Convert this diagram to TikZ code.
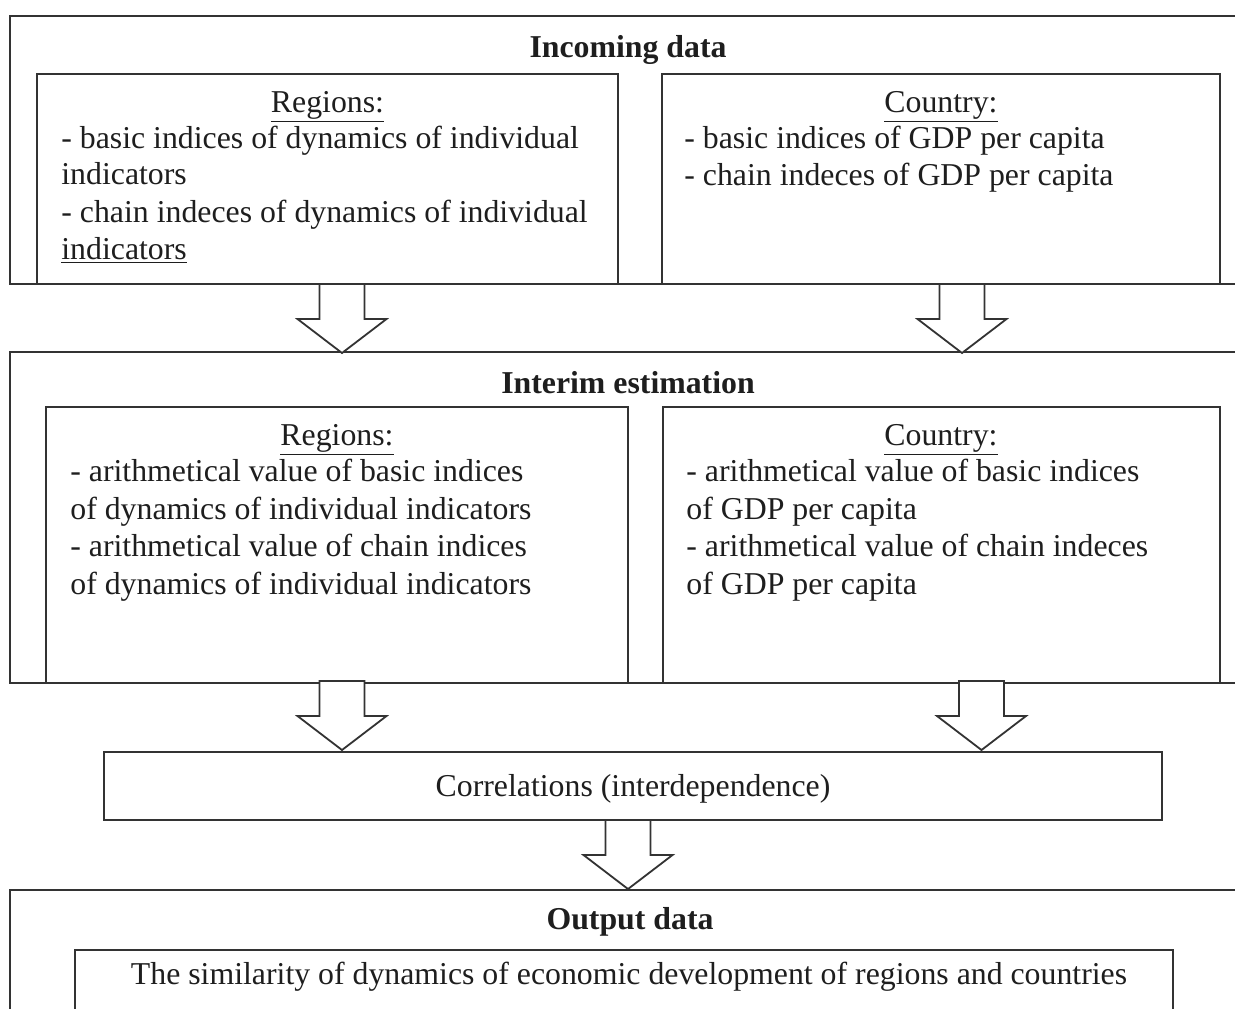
\documentclass[tikz,border=0pt]{standalone}
\usepackage{fontspec}
\setmainfont{Liberation Serif}
\usetikzlibrary{calc}
\definecolor{linegray}{HTML}{333333}
\definecolor{textgray}{HTML}{1E1E1E}
\begin{document}
\begin{tikzpicture}[x=0.5pt,y=-0.5pt,
  frame/.style={draw=linegray, line width=0.75pt},
  box/.style={frame, rectangle, inner sep=0pt, outer sep=0pt, anchor=north west},
  txt/.style={inner sep=0pt, anchor=base west, font=\fontsize{15.9}{18}\selectfont, text=textgray},
  ctxt/.style={txt, anchor=base},
  btxt/.style={ctxt, font=\fontsize{15.9}{18}\selectfont\bfseries},
  blockarrow/.pic={\draw[frame, line width=0.9pt, fill=white, line join=miter]
     (-22.5,0) -- (-22.5,35) -- (-44.5,35) -- (0,69) -- (44.5,35) -- (22.5,35) -- (22.5,0) -- cycle;}
]
\useasboundingbox (0,0) rectangle (1235,1008);
\clip (0,0) rectangle (1235,1008);
\fill[white] (0,0) rectangle (1235,1008);

% outer frames
\node[box, minimum width=620pt, minimum height=134pt] (inc) at (10,16) {};
\node[box, minimum width=620pt, minimum height=165.5pt] (int) at (10,352) {};
\node[box, minimum width=620pt, minimum height=70pt] (outp) at (10,890) {};

% inner boxes
\node[box, minimum width=290.5pt, minimum height=105pt] (reg1) at (37,74) {};
\node[box, minimum width=279pt, minimum height=105pt] (cou1) at (662,74) {};
\node[box, minimum width=291pt, minimum height=138pt] (reg2) at (46,407) {};
\node[box, minimum width=278.5pt, minimum height=138pt] (cou2) at (663,407) {};
\node[box, minimum width=529pt, minimum height=34pt] (corr) at (104,752) {};
\node[box, minimum width=549pt, minimum height=40pt] (sim) at (75,950) {};

% texts: incoming data
\node[btxt] (t1) at (628,57) {Incoming data};
\node[ctxt] (r1h) at (327.5,112) {\underline{Regions:}};
\node[txt] (r1a) at (61,148) {- basic indices of dynamics of individual};
\node[txt] (r1b) at (61,184) {indicators};
\node[txt] (r1c) at (61,222) {- chain indeces of dynamics of individual};
\node[txt] (r1d) at (61,259) {\underline{indicators}};
\node[ctxt] (c1h) at (941,112) {\underline{Country:}};
\node[txt] (c1a) at (684,148) {- basic indices of GDP per capita};
\node[txt] (c1b) at (684,185) {- chain indeces of GDP per capita};

% interim estimation
\node[btxt] (t2) at (628,393) {Interim estimation};
\node[ctxt] (r2h) at (337,445) {\underline{Regions:}};
\node[txt] (r2a) at (70,481) {- arithmetical value of basic indices};
\node[txt] (r2b) at (70,519) {of dynamics of individual indicators};
\node[txt] (r2c) at (70,556) {- arithmetical value of chain indices};
\node[txt] (r2d) at (70,594) {of dynamics of individual indicators};
\node[ctxt] (c2h) at (941,445) {\underline{Country:}};
\node[txt] (c2a) at (686,481) {- arithmetical value of basic indices};
\node[txt] (c2b) at (686,519) {of GDP per capita};
\node[txt] (c2c) at (686,556) {- arithmetical value of chain indeces};
\node[txt] (c2d) at (686,594) {of GDP per capita};

% correlations
\node[ctxt] (ct) at (633,796) {Correlations (interdependence)};

% output
\node[btxt] (t3) at (630,929) {Output data};
\node[ctxt] (st) at (629,984) {The similarity of dynamics of economic development of regions and countries};

% block arrows
\pic at ($(reg1.south)+(14.5,0)$) {blockarrow};
\pic at ($(cou1.south)+(21,0)$) {blockarrow};
\pic at ($(reg2.south)+(5,-2)$) {blockarrow};
\pic at ($(cou2.south)+(40,-2)$) {blockarrow};
\pic at ($(corr.south)+(-5,0)$) {blockarrow};
\end{tikzpicture}
\end{document}
